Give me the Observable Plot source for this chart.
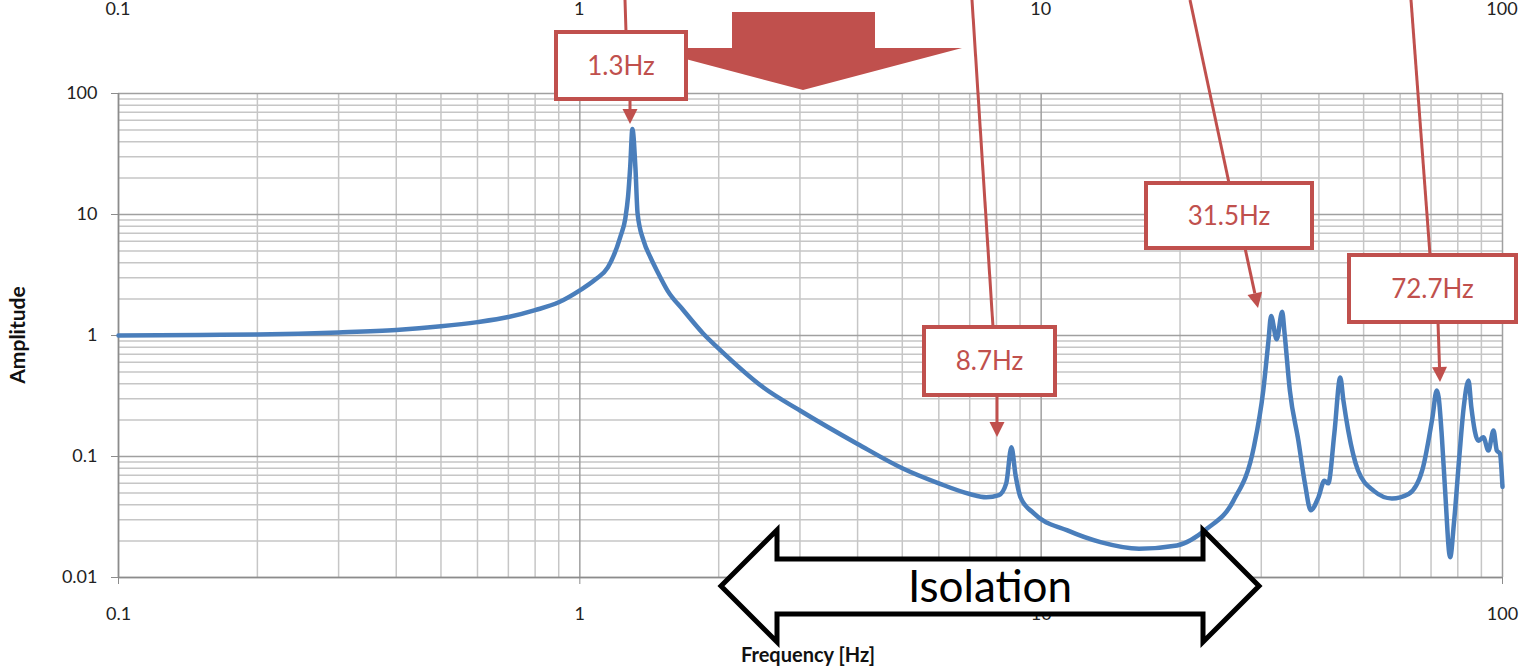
<!DOCTYPE html>
<html>
<head>
<meta charset="utf-8">
<script src="https://cdn.jsdelivr.net/npm/d3@7"></script>
<script src="https://cdn.jsdelivr.net/npm/@observablehq/plot@0.6"></script>
<style>
  html, body { margin: 0; padding: 0; background: #ffffff; }
  #chart svg { display: block; }
</style>
</head>
<body>
<div id="chart"></div>
<script>
// ---------------- data ----------------
const frequencyHz = [
  0.1, 0.15, 0.2, 0.3, 0.4, 0.5, 0.6, 0.7, 0.8, 0.9,
  1.0, 1.08, 1.15, 1.225, 1.255, 1.272, 1.286, 1.3, 1.32, 1.334,
  1.374, 1.423, 1.474, 1.549, 1.678, 1.85, 2.0, 2.5, 3.0, 4.0, 5.0, 6.0,
  7.0, 7.6, 8.1, 8.4, 8.62, 8.8, 9.02, 9.63, 11.4, 13.45,
  16.3, 19.7, 22.9, 26.1, 28.9, 30.3, 31.1, 31.5, 32.4, 33.3,
  33.7, 34.6, 36.1, 37.3, 38.4, 39.9, 41.1, 41.9, 43.2, 44.5,
  45.2, 46.3, 48.6, 52.6, 57.6, 62.6, 67.0, 70.5, 72.0, 72.7,
  73.9, 75.1, 77.0, 78.5, 80.6, 82.4, 84.4, 85.6, 88.6, 90.9,
  93.2, 95.6, 97.2, 98.7, 100
];
const amplitude = [
  1.0, 1.01, 1.02, 1.06, 1.11, 1.19, 1.29, 1.42, 1.62, 1.88,
  2.36, 2.9, 3.65, 6.6, 9.3, 14, 25, 51, 24, 10.2,
  6.1, 4.41, 3.35, 2.35, 1.61, 1.04, 0.78, 0.372, 0.24, 0.127, 0.08, 0.06,
  0.049, 0.046, 0.048, 0.06, 0.119, 0.07, 0.046, 0.034, 0.0245, 0.0196,
  0.0173, 0.0184, 0.0254, 0.043, 0.119, 0.351, 0.91, 1.45, 0.93, 1.57,
  1.04, 0.351, 0.135, 0.06, 0.036, 0.046, 0.063, 0.06, 0.155, 0.45,
  0.29, 0.164, 0.077, 0.052, 0.045, 0.049, 0.077, 0.211, 0.351, 0.31,
  0.144, 0.052, 0.0147, 0.0285, 0.099, 0.255, 0.425, 0.255, 0.135, 0.144,
  0.112, 0.164, 0.112, 0.106, 0.056
];
const xMajorTicks = [0.1, 1, 10, 100];
const xTickLabels = ["0.1", "1", "10", "100"];
const yMajorTicks = [0.01, 0.1, 1, 10, 100];
const yTickLabels = ["0.01", "0.1", "1", "10", "100"];
const minorMultipliers = [2, 3, 4, 5, 6, 7, 8, 9];
const peakLabels = ["1.3Hz", "8.7Hz", "31.5Hz", "72.7Hz"];
const xTitle = "Frequency [Hz]";
const yTitle = "Amplitude";
const bandLabel = "Isolation";

// ---------------- layout / style (pixels) ----------------
const RED = "#c0504d";
const BLUE = "#4a7ebb";
const FONT = "Lato, 'Open Sans', sans-serif";
const calloutLayout = [
  { box: [556, 32, 686, 99],    lead: [[625, 0], [626, 32]],    arrow: [[630, 99], [630, 124]] },
  { box: [924, 327, 1055, 395], lead: [[972, 0], [993, 327]],   arrow: [[997, 395], [997, 437]] },
  { box: [1146, 183, 1312, 248],lead: [[1190, 0], [1229, 183]], arrow: [[1245, 248], [1258, 308]] },
  { box: [1349, 255, 1516, 322],lead: [[1411, 0], [1430, 255]], arrow: [[1438, 322], [1440, 382]] }
];
const bigArrowShape = [[732, 12], [875, 12], [875, 48], [962, 48], [803, 90], [644, 48], [732, 48]];
const isolationShape = [[721, 586], [777, 530], [777, 559], [1203, 559], [1203, 530], [1259, 586],
                        [1203, 642], [1203, 614], [777, 614], [777, 642]];

// ---------------- chart ----------------
const series = frequencyHz.map((f, i) => ({ f, a: amplitude[i] }));
const xMinor = xMajorTicks.slice(0, -1).flatMap(d => minorMultipliers.map(m => d * m));
const yMinor = yMajorTicks.slice(0, -1).flatMap(d => minorMultipliers.map(m => d * m));

const plot = Plot.plot({
  width: 1532,
  height: 667,
  marginLeft: 118,
  marginRight: 30,
  marginTop: 93,
  marginBottom: 90,
  style: { fontFamily: FONT, fontSize: "18px", color: "#222", background: "#ffffff" },
  x: { type: "log", domain: [0.1, 100] },
  y: { type: "log", domain: [0.01, 100] },
  marks: [
    Plot.gridX(xMinor, { stroke: "#c6c6c6", strokeOpacity: 1, strokeWidth: 1.5 }),
    Plot.gridY(yMinor, { stroke: "#c6c6c6", strokeOpacity: 1, strokeWidth: 1.5 }),
    Plot.gridX(xMajorTicks, { stroke: "#a0a0a0", strokeOpacity: 1, strokeWidth: 1.5 }),
    Plot.gridY(yMajorTicks, { stroke: "#a0a0a0", strokeOpacity: 1, strokeWidth: 1.5 }),
    Plot.ruleX([0.1], { stroke: "#8c8c8c", strokeWidth: 1.5 }),
    Plot.ruleY([0.01], { stroke: "#8c8c8c", strokeWidth: 1.5 }),
    Plot.axisY({
      ticks: yMajorTicks, tickSize: 7, tickPadding: 14, stroke: "#8c8c8c",
      tickFormat: d => yTickLabels[yMajorTicks.indexOf(d)], label: null, fontSize: 18
    }),
    Plot.axisX({
      ticks: xMajorTicks, anchor: "bottom", tickSize: 7, tickPadding: 23, stroke: "#8c8c8c",
      tickFormat: d => xTickLabels[xMajorTicks.indexOf(d)], label: null, fontSize: 18
    }),
    Plot.line(series, { x: "f", y: "a", stroke: BLUE, strokeWidth: 4.5, curve: "monotone-x",
      strokeLinejoin: "round", strokeLinecap: "round" })
  ]
});
document.getElementById("chart").appendChild(plot);

// ---------------- annotations ----------------
const svg = d3.select(plot);
const xs = plot.scale("x");
const ann = svg.append("g");

// labels of the (cut-off) chart above
ann.selectAll("text.toplbl").data(xMajorTicks).join("text")
  .attr("class", "toplbl")
  .attr("x", d => xs.apply(d))
  .attr("y", 15)
  .attr("text-anchor", "middle")
  .attr("font-family", FONT).attr("font-size", 18).attr("fill", "#222")
  .text((d, i) => xTickLabels[i]);

// axis titles
ann.append("text")
  .attr("transform", "translate(25,335) rotate(-90)")
  .attr("text-anchor", "middle")
  .attr("font-family", FONT).attr("font-size", 21).attr("font-weight", "bold").attr("fill", "#111")
  .text(yTitle);
ann.append("text")
  .attr("x", 808).attr("y", 662)
  .attr("text-anchor", "middle")
  .attr("font-family", FONT).attr("font-size", 20).attr("font-weight", "bold").attr("fill", "#111")
  .text(xTitle);

// lead lines from top
calloutLayout.forEach(c => {
  ann.append("line")
    .attr("x1", c.lead[0][0]).attr("y1", c.lead[0][1])
    .attr("x2", c.lead[1][0]).attr("y2", c.lead[1][1])
    .attr("stroke", RED).attr("stroke-width", 3);
});

// big block arrow
ann.append("polygon")
  .attr("points", bigArrowShape.map(p => p.join(",")).join(" "))
  .attr("fill", RED);

// boxes, labels and pointer arrows
function arrowHead(x1, y1, x2, y2, len, half) {
  const dx = x2 - x1, dy = y2 - y1, L = Math.hypot(dx, dy);
  const ux = dx / L, uy = dy / L;
  const bx = x2 - ux * len, by = y2 - uy * len;
  return [[x2, y2], [bx - uy * half, by + ux * half], [bx + uy * half, by - ux * half]];
}
calloutLayout.forEach((c, i) => {
  const [x0, y0, x1, y1] = c.box;
  ann.append("rect")
    .attr("x", x0).attr("y", y0).attr("width", x1 - x0).attr("height", y1 - y0)
    .attr("fill", "#ffffff").attr("stroke", RED).attr("stroke-width", 4);
  ann.append("text")
    .attr("x", (x0 + x1) / 2).attr("y", (y0 + y1) / 2 + 9)
    .attr("text-anchor", "middle")
    .attr("font-family", FONT).attr("font-size", 26).attr("fill", RED)
    .text(peakLabels[i]);
  const [[ax0, ay0], [ax1, ay1]] = c.arrow;
  const head = arrowHead(ax0, ay0, ax1, ay1, 15, 7.5);
  const stemEnd = [(head[1][0] + head[2][0]) / 2, (head[1][1] + head[2][1]) / 2];
  ann.append("line")
    .attr("x1", ax0).attr("y1", ay0).attr("x2", stemEnd[0]).attr("y2", stemEnd[1])
    .attr("stroke", RED).attr("stroke-width", 3);
  ann.append("polygon")
    .attr("points", head.map(p => p.join(",")).join(" "))
    .attr("fill", RED);
});

// isolation double arrow
ann.append("polygon")
  .attr("points", isolationShape.map(p => p.join(",")).join(" "))
  .attr("fill", "#ffffff").attr("stroke", "#000").attr("stroke-width", 5)
  .attr("stroke-linejoin", "miter");
ann.append("text")
  .attr("x", 990).attr("y", 602)
  .attr("text-anchor", "middle")
  .attr("font-family", FONT).attr("font-size", 44).attr("fill", "#000")
  .text(bandLabel);
</script>
</body>
</html>
